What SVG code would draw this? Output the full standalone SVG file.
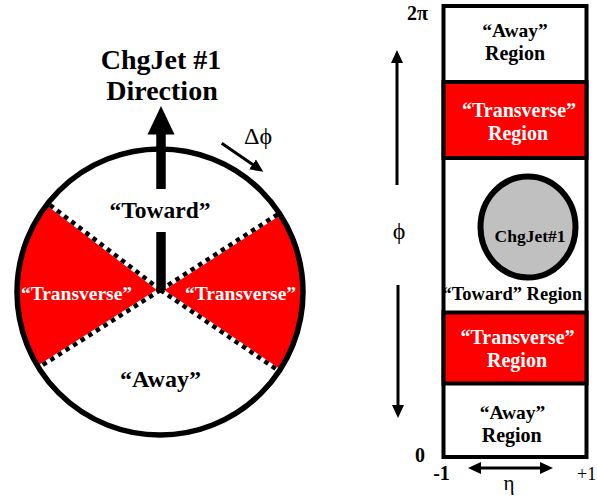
<svg xmlns="http://www.w3.org/2000/svg" width="597" height="500" viewBox="0 0 597 500">
<style>
  text { font-family: "Liberation Serif", "Times New Roman", serif; font-weight: bold; }
  .mid { text-anchor: middle; }
  .blk { fill: #000; }
  .wht { fill: #fff; }
  .red { fill: #ff0000; }
  .bnd { fill: #ff0000; stroke: #000; stroke-width: 4; }
  .dashw { stroke: #fff; stroke-width: 4.5; fill: none; }
  .dashb { stroke: #000; stroke-width: 4.5; stroke-dasharray: 4.5 4.5; fill: none; }
  .ln { stroke: #000; stroke-width: 3; fill: none; }
  .sym { font-family: "Liberation Serif", "DejaVu Serif", serif; font-weight: normal; }
</style>
<defs>
  <clipPath id="pie"><circle cx="160" cy="292" r="143"/></clipPath>
  <marker id="ah" markerUnits="userSpaceOnUse" markerWidth="14" markerHeight="12" refX="5" refY="6" orient="auto-start-reverse">
    <path d="M0,0 L13,6 L0,12 z" fill="#000"/>
  </marker>
</defs>
<rect width="597" height="500" fill="#fff"/>

<!-- Left: polar view -->
<g id="polar-view">
  <g clip-path="url(#pie)">
    <path id="transverse-left" class="red" d="M160.5,290 L-5.25,162.5 L-20.25,405 Z"/>
    <path id="transverse-right" class="red" d="M160.5,290 L334.8,177.5 L332.25,407.5 Z"/>
    <path class="dashw" d="M160.5,290 L-5.25,162.5 M160.5,290 L-20.25,405 M160.5,290 L334.8,177.5 M160.5,290 L332.25,407.5"/>
    <path class="dashb" d="M160.5,290 L-5.25,162.5 M160.5,290 L-20.25,405 M160.5,290 L334.8,177.5 M160.5,290 L332.25,407.5"/>
  </g>
  <circle cx="160" cy="292" r="143" fill="none" stroke="#000" stroke-width="5.5"/>
  <text class="mid blk" x="161" y="69" font-size="28">ChgJet #1</text>
  <text class="mid blk" x="162" y="100" font-size="28">Direction</text>
  <text class="mid blk" x="160" y="218" font-size="23.5">“Toward”</text>
  <text class="mid wht" x="76.5" y="300" font-size="19.5">“Transverse”</text>
  <text class="mid wht" x="240.5" y="300" font-size="19.5">“Transverse”</text>
  <text class="mid blk" x="160.5" y="387" font-size="24">“Away”</text>
  <text class="blk sym" x="244" y="144" font-size="24">Δϕ</text>
</g>

<!-- Right: eta-phi view -->
<g id="eta-phi-view">
  <rect x="443.5" y="6" width="143" height="451" fill="#fff" stroke="#000" stroke-width="4"/>
  <g id="away-top">
    <text class="mid blk" x="515" y="37" font-size="19.5">“Away”</text>
    <text class="mid blk" x="515" y="60" font-size="20">Region</text>
  </g>
  <g id="transverse-top">
    <rect class="bnd" x="443.5" y="82" width="143" height="76"/>
    <text class="mid wht" x="519" y="117" font-size="20">“Transverse”</text>
    <text class="mid wht" x="518" y="140" font-size="20">Region</text>
  </g>
  <g id="toward">
    <ellipse cx="528" cy="227" rx="47.5" ry="50.5" fill="#c0c0c0" stroke="#000" stroke-width="6"/>
    <text class="mid blk" x="530" y="242" font-size="17.5">ChgJet#1</text>
    <text class="mid blk" x="512.3" y="300" font-size="18.5">“Toward” Region</text>
  </g>
  <g id="transverse-bottom">
    <rect class="bnd" x="443.5" y="312.5" width="143" height="71"/>
    <text class="mid wht" x="517.5" y="343.5" font-size="20">“Transverse”</text>
    <text class="mid wht" x="517" y="366.7" font-size="20">Region</text>
  </g>
  <g id="away-bottom">
    <text class="mid blk" x="512.5" y="418.5" font-size="19.5">“Away”</text>
    <text class="mid blk" x="511.7" y="441.7" font-size="20">Region</text>
  </g>
  <text class="mid blk" x="417.5" y="19.5" font-size="20">2π</text>
  <text class="mid blk" x="420" y="461.7" font-size="20">0</text>
  <text class="mid blk" x="441.5" y="480" font-size="20">-1</text>
  <text class="blk" x="577" y="480" font-size="18" style="font-weight:normal">+1</text>
  <text class="mid blk sym" x="509" y="490" font-size="21">η</text>
  <text class="mid blk sym" x="399" y="239" font-size="24">ϕ</text>
</g>

<!-- Connectors -->
<g id="connectors">
  <path d="M161,106 L147.5,134.5 L174.5,134.5 Z" fill="#000"/>
  <line x1="161" y1="133" x2="161" y2="189" stroke="#000" stroke-width="9.5"/>
  <line x1="161" y1="232" x2="161" y2="290" stroke="#000" stroke-width="9.5"/>
  <line class="ln" x1="221.7" y1="143.3" x2="256.7" y2="167.2" marker-end="url(#ah)"/>
  <line class="ln" x1="397" y1="185" x2="397" y2="58" marker-end="url(#ah)"/>
  <line class="ln" x1="398" y1="285" x2="398" y2="410" marker-end="url(#ah)"/>
  <line class="ln" x1="476" y1="468" x2="545" y2="468" marker-start="url(#ah)" marker-end="url(#ah)"/>
</g>
</svg>
